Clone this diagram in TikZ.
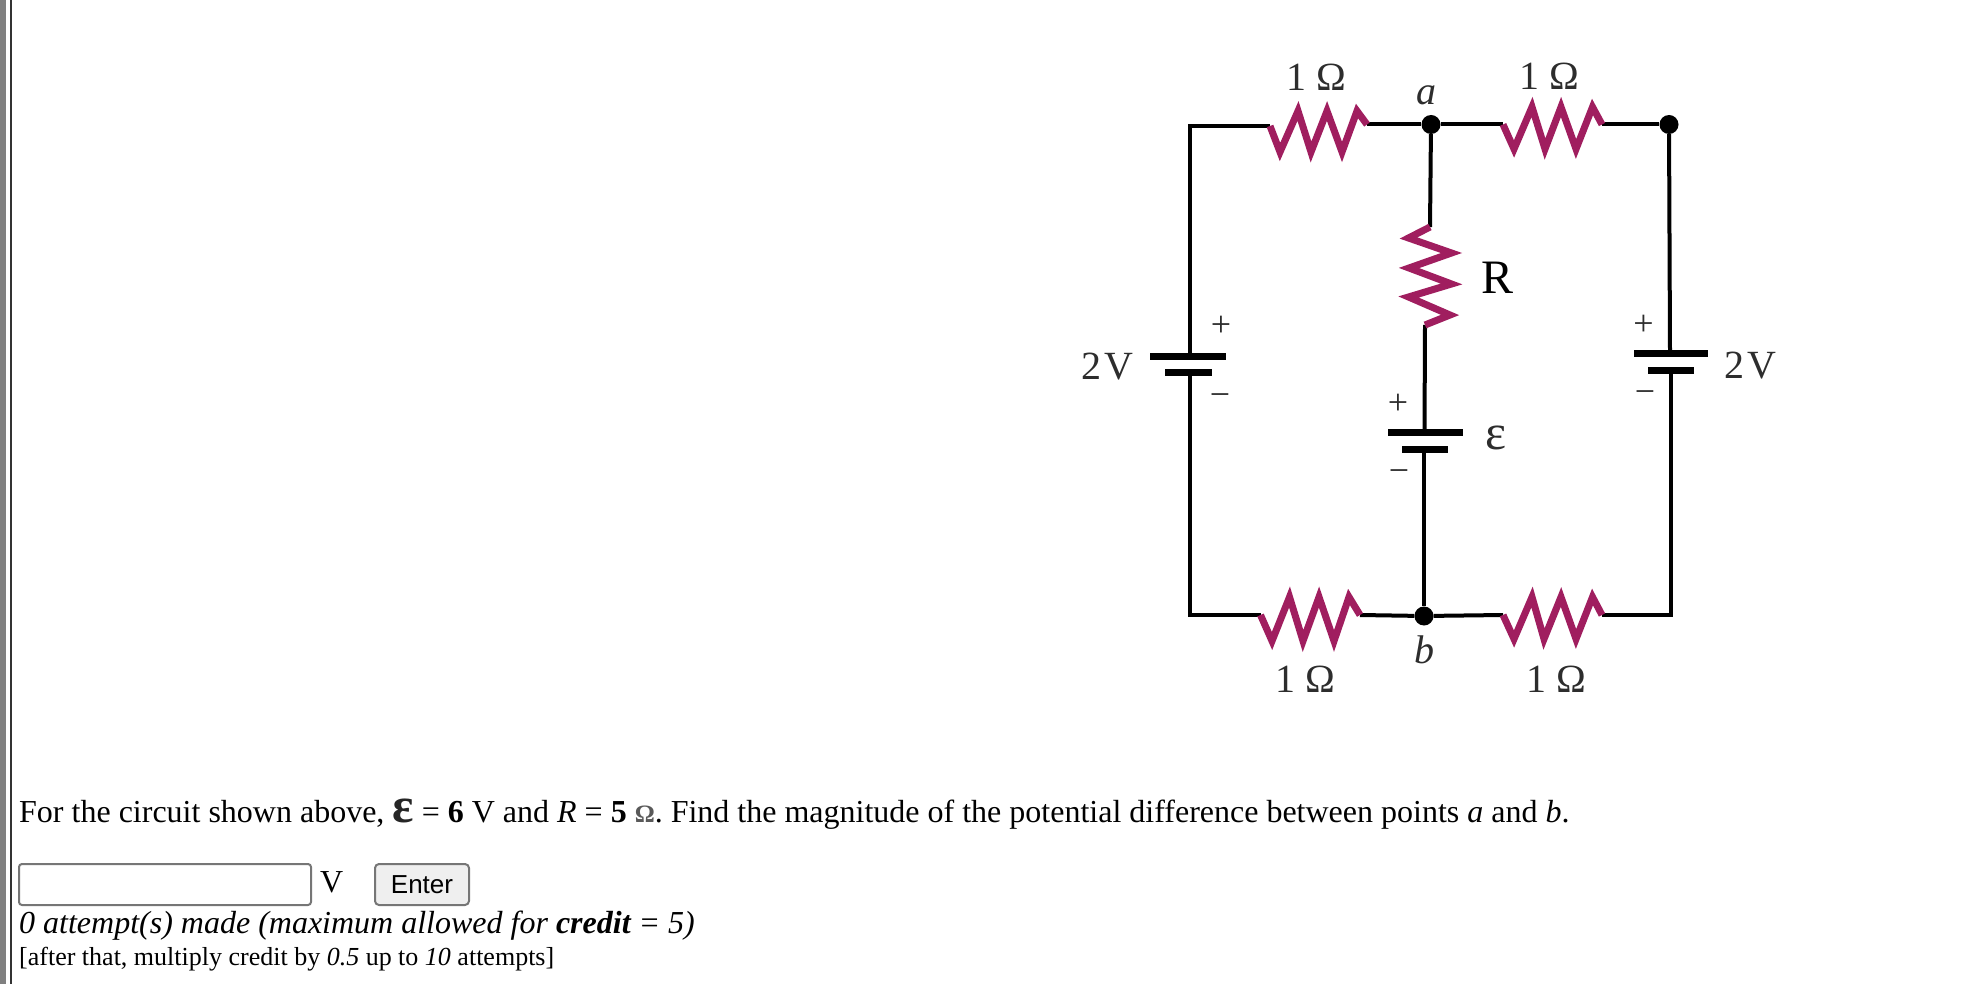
\documentclass[tikz,border=0pt]{standalone}
\usepackage{fontspec}
\setmainfont{Liberation Serif}
\newfontfamily\armfont{Liberation Sans}
\definecolor{plum}{RGB}{160,30,95}
\definecolor{txtgray}{RGB}{45,45,45}
\definecolor{boxedge}{RGB}{118,118,118}
\definecolor{btnfill}{RGB}{239,239,239}
\newcommand{\fsz}[1]{\fontsize{#1}{#1}\selectfont}
\tikzset{
  wire/.style={line width=4pt,black,line cap=butt,line join=miter},
  resist/.style={line width=7pt,plum,line join=miter,miter limit=10},
  plate/.style={line width=7pt,black},
  dotnode/.style={circle,fill=black,minimum size=19pt,inner sep=0pt},
  lab/.style={font=\fsz{40},text=txtgray,inner sep=0pt},
  signlab/.style={font=\fsz{36},text=txtgray,inner sep=0pt},
  para/.style={anchor=base west,inner sep=0pt,text=black}
}
\begin{document}
\begin{tikzpicture}[x=1pt,y=-1pt]
\useasboundingbox (0,0) rectangle (1980,984);
% left border of the page
\fill[black!50] (0,0) rectangle (6,984);
\fill[black!80] (10,0) rectangle (12,984);
% junctions and corners
\node[dotnode] (a) at (1431,124.5) {};
\node[dotnode] (tr) at (1669,124.5) {};
\node[dotnode] (b) at (1424,616) {};
\coordinate (tl) at (1190,126);
\coordinate (bl) at (1190,615);
\coordinate (br) at (1671,615);
% batteries
\coordinate (lbp) at (1190,356); \coordinate (lbn) at (1190,372);
\coordinate (rbp) at (1670,353); \coordinate (rbn) at (1671,370.5);
\coordinate (mbp) at (1424.5,432); \coordinate (mbn) at (1424,449);
\draw[plate] (1150,356) -- (1226,356);
\draw[plate] (1165,372) -- (1212,372);
\draw[plate] (1634,353) -- (1708,353);
\draw[plate] (1648,370.5) -- (1694,370.5);
\draw[plate] (1388,432) -- (1463,432);
\draw[plate] (1402,449) -- (1448,449);
% resistor ends
\coordinate (r1a) at (1270,126); \coordinate (r1b) at (1367,124.5);
\coordinate (r2a) at (1503,124.5); \coordinate (r2b) at (1602,124.5);
\coordinate (r3a) at (1260.5,615); \coordinate (r3b) at (1360,615);
\coordinate (r4a) at (1503,615); \coordinate (r4b) at (1602,615);
\coordinate (rma) at (1430,227); \coordinate (rmb) at (1425,325);
% wires
\draw[wire] (lbp) -- (tl) -- (r1a);
\draw[wire] (r1b) -- (a) -- (r2a);
\draw[wire] (r2b) -- (tr);
\draw[wire] (tr) -- (rbp);
\draw[wire] (rbn) -- (br) -- (r4b);
\draw[wire] (r4a) -- (b) -- (r3b);
\draw[wire] (r3a) -- (bl) -- (lbn);
\draw[wire] (a) -- (rma);
\draw[wire] (rmb) -- (mbp);
\draw[wire] (mbn) -- (b);
% resistors
\draw[resist] (r1a) -- (1280,152) -- (1298,111) -- (1311,152) -- (1327,111) -- (1342,152) -- (1357,111) -- (r1b);
\draw[resist] (r2a) -- (1514,149) -- (1532,107) -- (1545,149) -- (1561,107) -- (1576,149) -- (1592.5,107) -- (r2b);
\draw[resist] (r3a) -- (1272,641) -- (1289.5,597) -- (1303,641) -- (1319,597) -- (1334,641) -- (1349,597) -- (r3b);
\draw[resist] (r4a) -- (1514,639) -- (1532,597) -- (1544,639) -- (1561,597) -- (1576,639) -- (1592.5,597) -- (r4b);
\draw[resist] (rma) -- (1408.5,238) -- (1451.5,253) -- (1409,268) -- (1451.5,284) -- (1408.5,297) -- (1450,315) -- (rmb);
% circuit labels
\node[lab] (l1) at (1316,77) {1 Ω};
\node[lab] (l2) at (1549,76) {1 Ω};
\node[lab] (l3) at (1305,679) {1 Ω};
\node[lab] (l4) at (1556,679) {1 Ω};
\node[lab,anchor=base] (la) at (1426,105) {\itshape a};
\node[lab,anchor=base] (lb) at (1424,663) {\itshape b};
\node[font=\fsz{48},text=black,inner sep=0pt,anchor=base] (lr) at (1497,293) {R};
\node[font=\fsz{50},text=txtgray,inner sep=0pt,anchor=base] (le) at (1495.5,449.5) {ε};
\node[lab,anchor=base] (v1) at (1107.5,379) {2\hspace{3pt}V};
\node[lab,anchor=base] (v2) at (1750,378) {2\hspace{3pt}V};
\node[signlab] (s1) at (1221,326) {+};
\node[signlab] (s2) at (1220,400) {−};
\node[signlab] (s3) at (1643.5,325) {+};
\node[signlab] (s4) at (1645,397) {−};
\node[signlab] (s5) at (1398,404) {+};
\node[signlab] (s6) at (1399,476) {−};
% question text
\node[para,font=\fsz{32}] (q) at (19,822) {For the circuit shown above, {\fsz{50}\bfseries\color{black!85}ε} = {\bfseries 6} V and \textit{R} = {\bfseries 5} {\fsz{25}\bfseries\color{black!65}Ω}. Find the magnitude of the potential difference between points \textit{a} and \textit{b}.};
\draw[boxedge,line width=2pt,fill=white,rounded corners=3pt] (19,864) rectangle (311,905);
\node[para,font=\fsz{32}] (vv) at (320,892) {V};
\node[draw=boxedge,line width=2pt,fill=btnfill,rounded corners=4pt,minimum width=94pt,minimum height=41pt,inner sep=0pt,font=\armfont\fsz{26}] (enter) at (422,884.5) {Enter};
\node[para,font=\fsz{32}\itshape] (att) at (19,933) {0 attempt(s) made (maximum allowed for {\bfseries credit} = 5)};
\node[para,font=\fsz{26}] (aft) at (19,965) {[after that, multiply credit by \textit{0.5} up to \textit{10} attempts]};
\end{tikzpicture}
\end{document}
